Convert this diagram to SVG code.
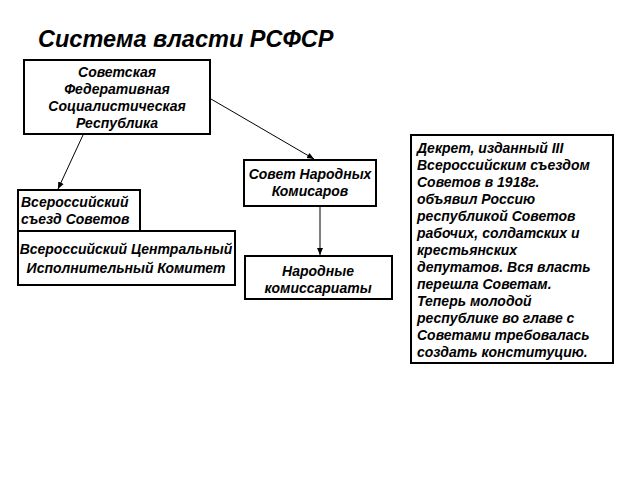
<svg xmlns="http://www.w3.org/2000/svg" width="640" height="480" viewBox="0 0 640 480">
<defs>
<style>
text{font-family:"Liberation Sans",Arial,sans-serif;font-weight:bold;font-style:italic;fill:#000}
.t{font-size:14px}
.c{text-anchor:middle}
.box{fill:#fff;stroke:#000;stroke-width:2}
.ln{stroke:#000;stroke-width:1;fill:none}
</style>
<marker id="ah" markerWidth="8" markerHeight="8" refX="7" refY="4" orient="auto" markerUnits="userSpaceOnUse">
<path d="M0,1 L7,4 L0,7 Z" fill="#000"/>
</marker>
</defs>
<rect width="640" height="480" fill="#fff"/>
<text x="38" y="47" style="font-size:23.5px">Система власти РСФСР</text>
<g id="connectors">
<line class="ln" x1="83" y1="135" x2="58" y2="189" marker-end="url(#ah)"/>
<line class="ln" x1="211" y1="99" x2="314" y2="159" marker-end="url(#ah)"/>
<line class="ln" x1="320" y1="207" x2="320" y2="255" marker-end="url(#ah)"/>
</g>
<g id="n1">
<rect class="box" x="24" y="60" width="186" height="74"/>
<text class="t c" x="117" y="77">Советская</text>
<text class="t c" x="117" y="94">Федеративная</text>
<text class="t c" x="117" y="111">Социалистическая</text>
<text class="t c" x="117" y="128">Республика</text>
</g>
<g id="n2">
<rect class="box" x="18" y="190" width="122" height="41"/>
<text class="t" x="21" y="207">Всероссийский</text>
<text class="t" x="21" y="224">съезд Советов</text>
</g>
<g id="n3">
<rect class="box" x="18" y="231" width="217" height="54"/>
<text class="t c" x="126" y="254">Всероссийский Центральный</text>
<text class="t c" x="126" y="273">Исполнительный Комитет</text>
</g>
<g id="n4">
<rect class="box" x="244" y="160" width="132" height="46"/>
<text class="t c" x="310" y="179">Совет Народных</text>
<text class="t c" x="310" y="196">Комисаров</text>
</g>
<g id="n5">
<rect class="box" x="245" y="256" width="147" height="43"/>
<text class="t c" x="318" y="276">Народные</text>
<text class="t c" x="318" y="293">комиссариаты</text>
</g>
<g id="n6">
<rect class="box" x="411" y="135" width="202" height="228"/>
<text class="t" x="417" y="153">Декрет, изданный III</text>
<text class="t" x="417" y="170">Всероссийским съездом</text>
<text class="t" x="417" y="187">Советов в 1918г.</text>
<text class="t" x="417" y="204">объявил Россию</text>
<text class="t" x="417" y="221">республикой Советов</text>
<text class="t" x="417" y="238">рабочих, солдатских и</text>
<text class="t" x="417" y="255">крестьянских</text>
<text class="t" x="417" y="272">депутатов. Вся власть</text>
<text class="t" x="417" y="289">перешла Советам.</text>
<text class="t" x="417" y="306">Теперь молодой</text>
<text class="t" x="417" y="323">республике во главе с</text>
<text class="t" x="417" y="340">Советами требовалась</text>
<text class="t" x="417" y="357">создать конституцию.</text>
</g>
</svg>
